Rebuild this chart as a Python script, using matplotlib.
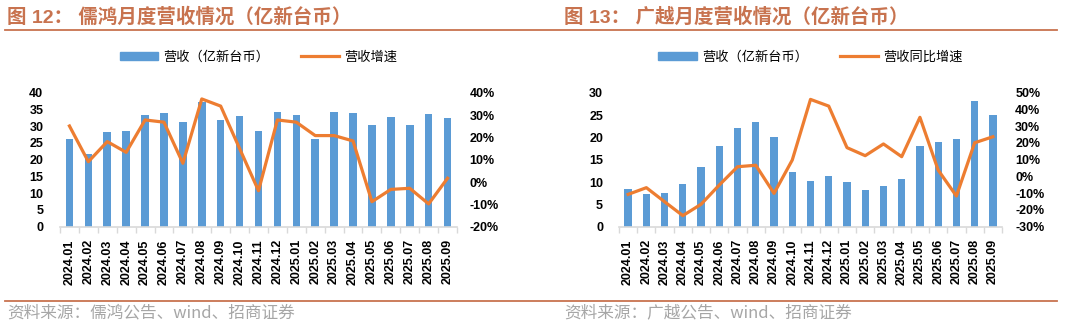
"""
儒鸿 / 广越 月度营收情况 (two panels)
"""
import matplotlib
matplotlib.use('Agg')
import matplotlib.pyplot as plt
from matplotlib.lines import Line2D

plt.rcParams['font.family'] = ['Liberation Sans', 'Noto Sans CJK SC', 'DejaVu Sans']

months = ['2024.01', '2024.02', '2024.03', '2024.04', '2024.05', '2024.06', '2024.07',
          '2024.08', '2024.09', '2024.10', '2024.11', '2024.12', '2025.01', '2025.02',
          '2025.03', '2025.04', '2025.05', '2025.06', '2025.07', '2025.08', '2025.09']

# 儒鸿 revenue (亿新台币) and yoy growth %
eclat_rev = [26.2, 21.7, 28.2, 28.6, 33.2, 33.9, 31.3, 37.1, 31.9, 32.9, 28.5,
             34.2, 33.3, 26.3, 34.1, 33.9, 30.4, 32.8, 30.4, 33.6, 32.3]
eclat_yoy = [25.1, 9.1, 18.1, 13.3, 27.8, 26.8, 8.4, 37.2, 34.0, 15.0, -3.9,
             27.8, 26.8, 20.8, 20.8, 18.4, -8.8, -3.3, -2.8, -9.8, 1.7]

# 广越 revenue (亿新台币) and yoy growth %
gy_rev = [8.5, 7.25, 7.5, 9.6, 13.4, 18.1, 22.2, 23.4, 20.1, 12.2, 10.2,
          11.35, 10.0, 8.15, 9.05, 10.75, 18.1, 18.9, 19.6, 28.2, 24.9]
gy_yoy = [-10.7, -6.7, -15.1, -23.4, -16.6, -5.1, 5.8, 6.7, -10.1, 9.8, 46.0,
          42.0, 17.2, 12.4, 19.4, 11.8, 35.3, 3.8, -11.7, 20.1, 23.7]

BLUE = '#5B9BD5'
ORANGE = '#ED7D31'
BROWN = '#C8734F'

fig = plt.figure(figsize=(10.77, 3.28), dpi=100)

rect_top_px = 92.7
bottom = 1 - 226.7 / 328
height = (226.7 - 92.7) / 328


def draw_panel(rect, rev, yoy, ylim, yticks, y2lim, y2ticks, title, legend2, source, tx,
               pad_l, pad_r):
    ax = fig.add_axes(rect)
    x = list(range(len(months)))
    ax.bar(x, rev, width=0.4, color=BLUE, zorder=2)
    ax.set_xlim(-0.5, len(months) - 0.5)
    ax.set_ylim(*ylim)
    ax.set_yticks(yticks)
    ax.set_xticks(x)
    ax.set_xticklabels(months, rotation=90, fontsize=9, fontweight='bold')
    # small ticks between categories
    ax.set_xticks([i - 0.5 for i in range(len(months) + 1)], minor=True)
    ax.tick_params(axis='x', which='major', length=0, pad=9)
    ax.tick_params(axis='x', which='minor', length=4, color='#D9D9D9', width=1)
    ax.tick_params(axis='y', length=0, pad=pad_l, labelsize=9)
    for lab in ax.get_yticklabels():
        lab.set_fontweight('bold')
    for s in ['top', 'right', 'left']:
        ax.spines[s].set_visible(False)
    ax.spines['bottom'].set_color('#D9D9D9')
    ax.spines['bottom'].set_linewidth(1.2)

    ax2 = ax.twinx()
    ax2.plot(x, yoy, color=ORANGE, linewidth=2.3, zorder=3)
    ax2.set_ylim(*y2lim)
    ax2.set_yticks(y2ticks)
    ax2.set_yticklabels([f'{v}%' for v in y2ticks], fontsize=9, fontweight='bold')
    ax2.tick_params(axis='y', length=0, pad=pad_r)
    for s in ['top', 'right', 'left', 'bottom']:
        ax2.spines[s].set_visible(False)

    handles = [plt.Rectangle((0, 0), 1, 1, color=BLUE),
               Line2D([0], [0], color=ORANGE, linewidth=2.3)]
    ax.legend(handles, ['营收（亿新台币）', legend2], loc='center', ncol=2,
              bbox_to_anchor=(0.5, 1.0 - (57 - rect_top_px) / (rect[3] * 328)),
              frameon=False, handlelength=2.9, handleheight=0.55,
              columnspacing=2.4, handletextpad=0.4,
              prop={'family': ['Noto Sans CJK SC'], 'size': 9.5})

    fig.text(tx, 1 - 16.5 / 328, title, fontsize=14, fontweight='bold', color=BROWN,
             va='center', ha='left')
    fig.text(tx, 1 - 313 / 328, source, fontsize=12, color='#A6A6A6',
             va='center', ha='left', family=['Noto Sans CJK SC', 'DejaVu Sans'])
    return ax


draw_panel([60 / 1077, bottom, (457 - 60) / 1077, height], eclat_rev, eclat_yoy,
           (0, 40), range(0, 41, 5), (-20, 40), list(range(-20, 41, 10)),
           '图 12： 儒鸿月度营收情况（亿新台币）', '营收增速',
           '资料来源：儒鸿公告、wind、招商证券', 7 / 1077, 12, 9)

draw_panel([619 / 1077, bottom, (1002 - 619) / 1077, height], gy_rev, gy_yoy,
           (0, 30), range(0, 31, 5), (-30, 50), list(range(-30, 51, 10)),
           '图 13： 广越月度营收情况（亿新台币）', '营收同比增速',
           '资料来源：广越公告、wind、招商证券', 564 / 1077, 11.5, 9.5)

# horizontal rules under titles and above sources
fig.add_artist(Line2D([5 / 1077, 1057 / 1077], [1 - 30 / 328, 1 - 30 / 328],
                      color=BROWN, linewidth=1.3))
fig.add_artist(Line2D([5 / 1077, 1057 / 1077], [1 - 301 / 328, 1 - 301 / 328],
                      color=BROWN, linewidth=1.3))

fig.savefig('out.png', dpi=100)
